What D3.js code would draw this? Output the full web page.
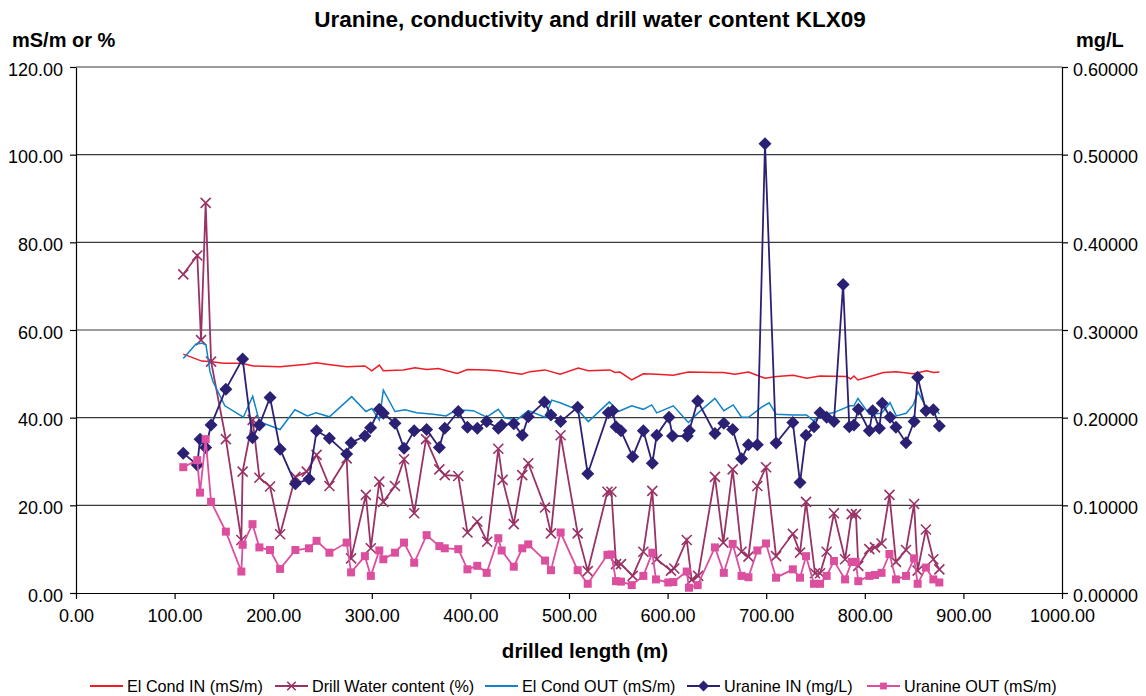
<!DOCTYPE html>
<html>
<head>
<meta charset="utf-8">
<script src="https://cdn.jsdelivr.net/npm/d3@7"></script>
<style>
  body { margin: 0; background: #fff; }
  text { font-family: "Liberation Sans", Arial, sans-serif; fill: #000; }
</style>
</head>
<body>
<div id="chart"></div>
<script>
// drilled length (m) and values
const condInX  = [108.8,127.5,135.9,149.4,168,179.8,207,234,244,254,274.5,293,300,307.6,311.7,332,343.8,355.7,367.5,386.7,397,416.5,428.3,452,460.4,475.7,491,509.4,519.6,541.6,546.7,551.7,563.6,575.4,589,605.8,621,648,656.5,668.4,682,698.8,710.6,727.5,741,754.6,781.6,785.7,789,793,805.3,818.8,832,849,862.7,869.5,875.6];
const condInY  = [54.5,52.9,52.8,52.4,52.4,51.8,51.6,52.2,52.5,52.2,51.6,51.8,50.7,52.0,50.7,50.9,51.4,51.0,51.2,50.1,51.0,50.9,50.7,49.9,50.5,50.9,49.9,51.3,50.7,50.9,50.3,50.4,48.6,50.0,49.9,49.7,50.4,50.3,50.3,49.9,50.4,49.0,49.4,49.7,49.0,49.5,49.4,48.8,49.5,48.6,49.4,50.3,50.5,50.0,50.7,50.3,50.4];

const condOutX = [108.8,121.7,127.5,131.8,135.9,139,151,169.7,179.2,186,207,222,234.6,243.4,257,279.6,294,300,307.6,311.7,323.5,333.7,345.5,362.4,375.3,386,403,416.5,428.3,435,447,458.7,475.7,482.4,491,501,507.8,519.6,540.9,550,563.6,575.4,583.9,589,605.8,621,631,648,657,666.6,675,682,695.4,703,710,727.5,741,747.8,758,768,785,789,793,804.6,817,825.6,832,842,849,854,862.7,871,875.6];
const condOutY = [53.5,56.8,57.0,56.6,50.5,48.2,42.7,40.1,44.9,39.1,37.3,41.8,40.4,41.1,40.2,44.8,41.4,42.1,39.5,46.3,41.4,41.8,41.1,40.8,40.4,41.8,41.6,40.1,41.9,39.9,39.5,41.6,40.1,44.0,43.4,42.5,42.1,39.1,43.6,41.4,42.7,41.9,42.9,41.1,42.7,38.9,41.1,44.4,41.6,42.9,40.1,40.1,42.4,43.4,40.8,40.6,40.6,39.3,40.8,41.1,42.7,42.7,44.4,40.8,41.0,43.4,40.4,41.0,42.9,45.9,42.1,42.4,40.8];

const waterX = [108.8,123,126.8,131.5,137,152,167.7,169,179.2,186,196.8,207,222.5,234,244,257,274.5,279,294,299,307.6,311.7,323.5,332.7,343,355,368.5,374,387.7,397,407,417,428.3,432.7,444,452.6,458.7,475.7,481.7,491.5,508.8,519,539,543,547.7,552.7,564.6,575.4,584.5,589,603.4,606.8,619.4,624.4,631,648,656.5,666,675,682,691,699.8,710,727,734.3,740.4,749.5,754.6,761.3,768.7,780,786.7,791,793.4,804.6,810.3,817,825,831.6,841.8,850,853.6,862,869.5,875.6];
const waterY = [72.7,77.0,57.7,89.0,52.8,35.1,12.1,27.7,39.5,26.3,24.3,13.4,26.5,27.7,31.5,24.4,30.7,7.9,22.4,10.2,25.4,20.8,24.4,30.5,18.2,35.1,28.2,26.9,26.7,13.8,16.3,11.7,32.9,25.8,15.7,26.9,29.6,19.5,13.6,36.0,13.6,5.0,23.1,23.1,6.6,6.6,3.9,9.4,23.3,7.7,5.1,5.6,12.1,3.0,3.9,26.5,11.5,28.2,9.4,8.3,24.4,28.7,8.4,13.5,9.2,20.8,4.5,4.5,9.4,18.2,7.7,18.0,18.0,6.2,10.0,10.4,11.3,22.4,7.1,9.8,20.3,5.1,14.5,7.7,5.4];

// uranine values in mg/L (right axis)
const uranInX = [108.8,123,125.8,131.5,137,152,169,179,186,196.8,207,222.5,236.3,244,257,274.5,279,293,298.8,307.6,311.7,323.5,332.7,343,355.6,368.5,374,387.7,397,407,416.5,428.3,431.7,444,452.6,458.7,475,481.7,491.5,508.8,519,539.9,544.3,547.7,552.7,564.6,575.4,584.5,589,601.4,605,620,622,630.5,648,657,666,675,682,691,698.8,710,727,734.3,740.4,748.5,754.6,761.3,768.7,778,784.3,789,793.4,804.6,808,814.7,817.7,825.6,831.6,841.8,850,853.6,862,869.5,875.6];
const uranInY = [0.1595,0.146,0.1755,0.166,0.1915,0.2325,0.267,0.177,0.1915,0.223,0.164,0.1245,0.13,0.185,0.1765,0.1585,0.1715,0.179,0.1885,0.2095,0.205,0.1935,0.165,0.185,0.1865,0.166,0.188,0.207,0.189,0.188,0.1955,0.188,0.1915,0.193,0.18,0.201,0.218,0.203,0.1955,0.212,0.136,0.2055,0.208,0.1895,0.185,0.1555,0.185,0.148,0.18,0.2005,0.179,0.179,0.185,0.219,0.182,0.1935,0.1865,0.153,0.169,0.169,0.5125,0.171,0.1945,0.126,0.18,0.1895,0.2055,0.2005,0.1955,0.352,0.1895,0.1915,0.2095,0.185,0.208,0.188,0.2165,0.2005,0.189,0.1715,0.1955,0.246,0.208,0.209,0.1905];

const uranOutX = [108.8,123,125.8,131.5,137,152,167.7,169,179,186,196.8,207,222.5,236.3,244,257,274.5,279,293,299,307.6,311.7,323.5,332.7,343,355.6,368.5,374,387.7,397,407,416.5,428.3,431.7,444,452.6,458.7,475.7,481.7,491.5,508.8,519,539,543,547.7,552.7,563.6,575.4,584.5,588.2,600.7,605.8,619.4,621.7,630.5,648,657,666,675,682,691,699.8,710,727,734.3,740.4,748.5,754.6,761.3,768.7,780,786.7,790.8,793.4,804.6,810.3,817,825,831.6,841.8,850,853.6,862,869.5,875.6];
const uranOutY = [0.1435,0.1515,0.1145,0.1755,0.104,0.07,0.0245,0.055,0.0785,0.052,0.049,0.0275,0.049,0.051,0.0595,0.046,0.0575,0.0235,0.042,0.0195,0.0485,0.0385,0.046,0.0575,0.0345,0.066,0.0535,0.051,0.05,0.027,0.031,0.023,0.0625,0.0485,0.03,0.051,0.0555,0.037,0.026,0.069,0.026,0.0105,0.0435,0.044,0.0135,0.013,0.009,0.0195,0.046,0.0155,0.012,0.0125,0.0245,0.006,0.009,0.052,0.023,0.056,0.0195,0.018,0.0485,0.0565,0.0175,0.027,0.0175,0.042,0.0105,0.0105,0.0195,0.0365,0.0155,0.0355,0.0355,0.0135,0.0195,0.0205,0.023,0.0445,0.0155,0.0195,0.0395,0.0105,0.029,0.0155,0.012];

const xTicks = [0,100,200,300,400,500,600,700,800,900,1000];
const leftTicks = [0,20,40,60,80,100,120];
const rightTicks = [0,0.1,0.2,0.3,0.4,0.5,0.6];

const width = 1146, height = 696;
const margin = {top: 67, right: 84, bottom: 103, left: 76};

const svg = d3.select("#chart").append("svg")
  .attr("width", width)
  .attr("height", height);

const x = d3.scaleLinear().domain([0, 1000]).range([margin.left, width - margin.right]);
const yL = d3.scaleLinear().domain([0, 120]).range([height - margin.bottom, margin.top]);
const yR = d3.scaleLinear().domain([0, 0.6]).range([height - margin.bottom, margin.top]);

// grid lines
svg.append("g")
  .selectAll("line")
  .data(leftTicks.slice(1))
  .enter().append("line")
  .attr("x1", x(0)).attr("x2", x(1000))
  .attr("y1", d => yL(d)).attr("y2", d => yL(d))
  .attr("stroke", "#3a3a3a")
  .attr("stroke-width", 1.2);

const axisStyle = g => {
  g.selectAll(".domain").attr("stroke", "#000").attr("stroke-width", 1.2);
  g.selectAll(".tick line").attr("stroke", "#000").attr("stroke-width", 1.2);
  g.selectAll(".tick text").style("font-size", "18px").style("font-family", "'Liberation Sans', Arial, sans-serif");
};

svg.append("g")
  .attr("transform", `translate(0,${yL(0)})`)
  .call(d3.axisBottom(x).tickValues(xTicks).tickSize(6).tickSizeOuter(0).tickPadding(10).tickFormat(d3.format(".2f")))
  .call(axisStyle);

svg.append("g")
  .attr("transform", `translate(${x(0)},0)`)
  .call(d3.axisLeft(yL).tickValues(leftTicks).tickSize(6).tickSizeOuter(0).tickPadding(7).tickFormat(d3.format(".2f")))
  .call(axisStyle)
  .selectAll(".tick text").attr("dy", "0.45em");

svg.append("g")
  .attr("transform", `translate(${x(1000)},0)`)
  .call(d3.axisRight(yR).tickValues(rightTicks).tickSize(6).tickSizeOuter(0).tickPadding(5).tickFormat(d3.format(".5f")))
  .call(axisStyle)
  .selectAll(".tick text").attr("dy", "0.45em");

// series
const series = [
  {name: "El Cond IN (mS/m)", xs: condInX, ys: condInY, y: yL, color: "#ee1c25", marker: null},
  {name: "Drill Water content (%)", xs: waterX, ys: waterY, y: yL, color: "#993366", marker: "x"},
  {name: "El Cond OUT (mS/m)", xs: condOutX, ys: condOutY, y: yL, color: "#1183c6", marker: null},
  {name: "Uranine IN (mg/L)", xs: uranInX, ys: uranInY, y: yR, color: "#2a2175", marker: "diamond"},
  {name: "Uranine OUT (mS/m)", xs: uranOutX, ys: uranOutY, y: yR, color: "#dc4f9f", marker: "square"}
];

const drawMarker = (g, type, color, cx, cy, s) => {
  if (type === "x") {
    g.append("path")
      .attr("d", `M${cx-s},${cy-s}L${cx+s},${cy+s}M${cx-s},${cy+s}L${cx+s},${cy-s}`)
      .attr("stroke", color).attr("stroke-width", 1.6).attr("fill", "none");
  } else if (type === "diamond") {
    g.append("path")
      .attr("d", `M${cx},${cy-s}L${cx+s},${cy}L${cx},${cy+s}L${cx-s},${cy}Z`)
      .attr("fill", color);
  } else if (type === "square") {
    g.append("rect")
      .attr("x", cx - s).attr("y", cy - s)
      .attr("width", 2 * s).attr("height", 2 * s)
      .attr("fill", color);
  }
};

const markerSize = {x: 5, diamond: 6.5, square: 4};

series.forEach(s => {
  const pts = s.xs.map((v, i) => [v, s.ys[i]]);
  const line = d3.line().x(d => x(d[0])).y(d => s.y(d[1]));
  const g = svg.append("g");
  g.append("path")
    .datum(pts)
    .attr("d", line)
    .attr("fill", "none")
    .attr("stroke", s.color)
    .attr("stroke-width", s.marker ? 1.8 : 1.5);
  if (s.marker) {
    pts.forEach(d => drawMarker(g, s.marker, s.color, x(d[0]), s.y(d[1]), markerSize[s.marker]));
  }
});

// titles
svg.append("text")
  .attr("x", 590).attr("y", 27)
  .attr("text-anchor", "middle")
  .style("font-size", "22.5px").style("font-weight", "bold")
  .text("Uranine, conductivity and drill water content KLX09");

svg.append("text")
  .attr("x", 12).attr("y", 47)
  .style("font-size", "20px").style("font-weight", "bold")
  .text("mS/m or %");

svg.append("text")
  .attr("x", 1076).attr("y", 47)
  .style("font-size", "20px").style("font-weight", "bold")
  .text("mg/L");

svg.append("text")
  .attr("x", 585).attr("y", 658)
  .attr("text-anchor", "middle")
  .style("font-size", "20.5px").style("font-weight", "bold")
  .text("drilled length (m)");

// legend
const legendX = [90, 275, 485, 687, 867];
const legend = svg.append("g").attr("transform", "translate(0,686)");
series.forEach((s, i) => {
  const lx = legendX[i];
  legend.append("line")
    .attr("x1", lx).attr("x2", lx + 33)
    .attr("y1", 0).attr("y2", 0)
    .attr("stroke", s.color).attr("stroke-width", 1.8);
  if (s.marker) drawMarker(legend, s.marker, s.color, lx + 16.5, 0, markerSize[s.marker] * 0.85);
  legend.append("text")
    .attr("x", lx + 37).attr("y", 6)
    .style("font-size", "16.2px")
    .text(s.name);
});
</script>
</body>
</html>
